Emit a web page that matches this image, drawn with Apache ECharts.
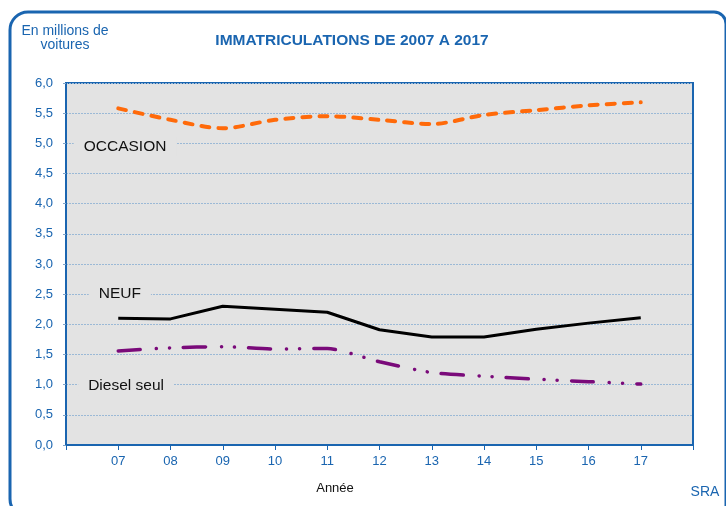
<!DOCTYPE html>
<html><head><meta charset="utf-8">
<script src="https://cdn.jsdelivr.net/npm/echarts@6/dist/echarts.min.js"></script>
<style>html,body{margin:0;padding:0;background:#fff}#c{width:726px;height:506px}</style>
</head><body><div id="c"></div>
<script>
const years = [7, 8, 9, 10, 11, 12, 13, 14, 15, 16, 17];
const yearLabels = ['07','08','09','10','11','12','13','14','15','16','17'];
const occasion = [5.58, 5.39, 5.25, 5.39, 5.45, 5.39, 5.32, 5.47, 5.55, 5.63, 5.68];
const neuf = [2.10, 2.09, 2.30, 2.25, 2.20, 1.91, 1.79, 1.79, 1.92, 2.02, 2.11];
const diesel = [1.56, 1.61, 1.63, 1.59, 1.60, 1.38, 1.20, 1.14, 1.09, 1.05, 1.01];
const seriesNames = ['OCCASION', 'NEUF', 'Diesel seul'];

const BLUE = '#1a65b0';
const FONT = '"Liberation Sans", Arial, sans-serif';
const pair = arr => years.map((y, i) => [y, arr[i]]);
const tagLabel = (name, coord) => ({
  symbol: 'rect', symbolSize: [1, 1], itemStyle: { color: 'rgba(0,0,0,0)' },
  data: [{ coord: coord, value: name }],
  label: { show: true, position: 'inside', formatter: name, color: '#111', fontSize: 15.5,
    fontFamily: FONT, backgroundColor: '#e3e3e3', padding: [2, 10] },
  silent: true
});

const chart = echarts.init(document.getElementById('c'), null, { renderer: 'canvas' });
chart.setOption({
  animation: false,
  backgroundColor: '#fff',
  textStyle: { fontFamily: FONT },
  grid: { left: 66, top: 83, right: 33, bottom: 61, show: true, backgroundColor: '#e3e3e3',
    borderColor: BLUE, borderWidth: 2 },
  graphic: [
    { type: 'rect', shape: { x: 10, y: 12, width: 716, height: 505, r: [18, 12, 12, 18] },
      style: { fill: 'none', stroke: BLUE, lineWidth: 3 }, silent: true, z: -1 },
    { type: 'text', style: { text: 'IMMATRICULATIONS DE 2007 A 2017',
      fill: BLUE, font: 'bold 15.5px ' + FONT, textAlign: 'center', textVerticalAlign: 'middle' },
      x: 352, y: 41 },
    { type: 'text', style: { text: 'En millions de\nvoitures', fill: BLUE, font: '14px ' + FONT,
      textAlign: 'center', lineHeight: 14 }, x: 65, y: 24 },
    { type: 'text', style: { text: 'Année', fill: '#111', font: '13px ' + FONT, textAlign: 'center',
      textVerticalAlign: 'middle' }, x: 335, y: 488 },
    { type: 'text', style: { text: 'SRA', fill: BLUE, font: '14px ' + FONT, textAlign: 'center',
      textVerticalAlign: 'middle' }, x: 705, y: 492 }
  ],
  xAxis: {
    type: 'value', min: 6, max: 18, interval: 1,
    axisLine: { show: true, lineStyle: { color: BLUE, width: 2 } },
    axisTick: { show: true, length: 5, lineStyle: { color: BLUE, width: 1 } },
    splitLine: { show: false },
    axisLabel: { color: BLUE, fontSize: 13, margin: 10, fontFamily: FONT,
      formatter: v => { const i = years.indexOf(v); return i >= 0 ? yearLabels[i] : ''; } }
  },
  yAxis: {
    type: 'value', min: 0, max: 6, interval: 0.5,
    axisLine: { show: true, lineStyle: { color: BLUE, width: 2 } },
    axisTick: { show: true, length: 3, lineStyle: { color: '#7fa3c8', width: 1 } },
    splitLine: { show: true, lineStyle: { color: '#9bb9d6', width: 1, type: [2, 1] } },
    axisLabel: { color: BLUE, fontSize: 13, margin: 13, fontFamily: FONT,
      formatter: v => v.toFixed(1).replace('.', ',') }
  },
  series: [
    { name: seriesNames[0], type: 'line', data: pair(occasion), smooth: 0.3, showSymbol: false,
      lineStyle: { color: '#ff6a0a', width: 4, type: [8, 9], cap: 'round' },
      markPoint: tagLabel(seriesNames[0], [7.13, 4.95]) },
    { name: seriesNames[1], type: 'line', data: pair(neuf), smooth: false, showSymbol: false,
      lineStyle: { color: '#000', width: 3 },
      markPoint: tagLabel(seriesNames[1], [7.03, 2.5]) },
    { name: seriesNames[2], type: 'line', data: pair(diesel), smooth: 0.2, showSymbol: false,
      lineStyle: { color: '#7a0a7a', width: 3.5, type: [22, 16, 0.1, 13, 0.1, 14], cap: 'round' },
      markPoint: tagLabel(seriesNames[2], [7.15, 0.99]) }
  ]
});
</script></body></html>
